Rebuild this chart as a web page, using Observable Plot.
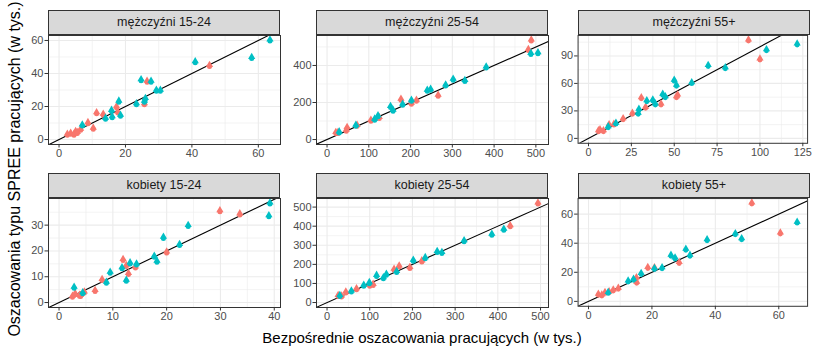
<!DOCTYPE html>
<html>
<head>
<meta charset="utf-8">
<script src="https://cdn.jsdelivr.net/npm/d3@7"></script>
<script src="https://cdn.jsdelivr.net/npm/@observablehq/plot@0.6"></script>
<style>
  html, body { margin: 0; padding: 0; background: white; }
  #chart { position: relative; width: 817px; height: 348px; font-family: "Liberation Sans", Arial, sans-serif; overflow: hidden; }
  .strip { position: absolute; box-sizing: border-box; border: 1px solid #333; background: #D9D9D9; color: #1A1A1A; font-size: 12.5px; text-align: center; line-height: 23px; height: 25px; }
  .plotwrap { position: absolute; }
  .title { position: absolute; font-size: 15px; color: #000; white-space: nowrap; }
</style>
</head>
<body>
<div id="chart"></div>
<script>
// ---- data ----
const facetTitles = ["mężczyźni 15-24", "mężczyźni 25-54", "mężczyźni 55+", "kobiety 15-24", "kobiety 25-54", "kobiety 55+"];
const xTitle = "Bezpośrednie oszacowania pracujących (w tys.)";
const yTitle = "Oszacowania typu SPREE pracujących (w tys.)";
const seriesColors = ["#F8766D", "#00BFC4"];

// [direct estimate, SPREE estimate]
const m1524Red = [[45.3,44.6],[26.5,35],[25.7,21.4],[17.3,19.6],[17.7,16.4],[11.3,16],[13.3,15],[8.7,10],[10.3,6.6],[6.5,6],[5,4.6],[3.5,3.6],[2.5,3],[4.5,3],[5.5,4]];
const m1524Teal = [[63.5,60],[58,49.4],[41,46.8],[24.7,36],[27.7,35],[29.3,29.6],[30.5,29.6],[26,24.6],[25.7,23],[23.3,21.4],[18,23],[18.5,14.4],[15.8,17.4],[16,13.6],[14,12.6],[7,8.6]];
const m2554Red = [[489,535],[482,484],[266,237],[214,210],[202,194],[177,215],[125,117],[105,102],[72,75],[48,63],[46,48],[26,36],[21,36]];
const m2554Teal = [[488,463],[505,466],[381,389],[330,317],[302,323],[284,292],[248,269],[240,264],[202,210],[181,188],[152,176],[158,156],[122,126],[114,108],[69,75],[29,39]];
const m55Red = [[93.3,107],[100,86.3],[52,46.8],[51.3,45],[42.3,37],[30.8,43.9],[33.3,33.5],[25.6,27],[20.2,20.9],[12,14.4],[14.8,15.1],[6.7,9],[5.8,7.9],[8.7,7.9]];
const m55Teal = [[121.7,102.5],[103.8,96.4],[79.8,76.6],[69.8,79],[60.2,60.4],[50,63],[51.3,57.5],[43.3,47.8],[44.8,45],[37.5,41.4],[34,40.6],[39,37],[29.4,31.3],[29,27],[16,16.2],[11.5,12.2]];
const k1524Red = [[29.9,35.4],[33.6,34.2],[20,19.4],[11.9,16.5],[12.5,14.2],[14.2,13.6],[12.9,11.1],[8,8.8],[6.7,4.5],[4.7,3.9],[3.8,2.7],[2.5,2.3],[4,2.6],[3,3.3]];
const k1524Teal = [[39.2,38.4],[39,33.5],[24,29.7],[19.4,25.1],[22.4,22.3],[17.7,17.8],[18.2,15.8],[13.2,15.2],[14.4,14.8],[11.7,13.3],[9.5,11.6],[12.5,8.5],[8.8,7.7],[2.8,5.8],[4.4,3.6]];
const k2554Red = [[494,519],[429,400],[222,216],[194,181],[169,189],[157,172],[108,93],[100,88],[69,70],[44,53],[26,35],[34,32]];
const k2554Teal = [[414,382],[386,356],[321,321],[269,260],[258,265],[230,233],[202,219],[163,160],[139,146],[116,140],[132,128],[99,102],[86,88],[57,58],[30,35]];
const k55Red = [[51.5,67.4],[60.5,46.7],[28.6,26.4],[18.7,23],[20.8,22.8],[15.1,15.9],[15.2,12.8],[9.4,8.7],[7.8,7.5],[5.2,5.9],[3.1,4.6],[4.2,4.1],[6.5,6.4]];
const k55Teal = [[65.8,54.2],[46.3,46.2],[48.3,42.8],[37.4,42.1],[30.7,35.5],[32,31.4],[26,31.4],[27.3,29.6],[23.2,22.8],[20.8,22.3],[16.6,18.9],[14.2,15],[12.5,13.7],[6.2,5.9]];

const xTicks = [[0,20,40,60],[0,100,200,300,400,500],[0,25,50,75,100,125],[0,10,20,30,40],[0,100,200,300,400,500],[0,20,40,60]];
const yTicks = [[0,20,40,60],[0,200,400],[0,30,60,90],[0,10,20,30],[0,100,200,300,400,500],[0,20,40,60]];

// ---- layout ----
const panelLefts = [48, 316, 578];
const panelTops = [35, 198];
const PW = 232, PH = 109, SH = 25;
const ML = 40, MR = 10, MT = 4, MB = 24;

const facets = [
  [m1524Red, m1524Teal], [m2554Red, m2554Teal], [m55Red, m55Teal],
  [k1524Red, k1524Teal], [k2554Red, k2554Teal], [k55Red, k55Teal]
];

function minorsOf(t, dom) {
  const out = [];
  const step = t[1] - t[0];
  const ext = [t[0] - step, ...t, t[t.length - 1] + step];
  for (let i = 0; i < ext.length - 1; i++) {
    const m = (ext[i] + ext[i + 1]) / 2;
    if (m > dom[0] && m < dom[1]) out.push(m);
  }
  return out;
}

const chart = document.getElementById("chart");

facets.forEach((series, i) => {
  const col = i % 3, row = Math.floor(i / 3);
  const L = panelLefts[col], T = panelTops[row];
  const all = series.flat();
  const xmax = d3.max(all, d => d[0]);
  const ymax = d3.max(all, d => d[1]);
  const xd = [-0.05 * xmax, 1.05 * xmax];
  const yd = [-0.05 * ymax, 1.05 * ymax];
  const lo = Math.min(xd[0], yd[0]), hi = Math.max(xd[1], yd[1]);

  const marks = [
    Plot.gridX(minorsOf(xTicks[i], xd), {stroke: "#EBEBEB", strokeOpacity: 1, strokeWidth: 0.6}),
    Plot.gridY(minorsOf(yTicks[i], yd), {stroke: "#EBEBEB", strokeOpacity: 1, strokeWidth: 0.6}),
    Plot.gridX(xTicks[i], {stroke: "#EBEBEB", strokeOpacity: 1, strokeWidth: 1.1}),
    Plot.gridY(yTicks[i], {stroke: "#EBEBEB", strokeOpacity: 1, strokeWidth: 1.1}),
    Plot.link([{a: lo, b: hi}], {x1: "a", y1: "a", x2: "b", y2: "b", stroke: "black", strokeWidth: 1.1, clip: true})
  ];
  series.forEach((pts, s) => {
    marks.push(Plot.dot(pts, {x: d => d[0], y: d => d[1], symbol: "circle", r: 2.5, dy: 0.6, fill: seriesColors[s], stroke: "none"}));
    marks.push(Plot.dot(pts, {x: d => d[0], y: d => d[1], symbol: "triangle", r: 2.7, dy: -1.0, fill: seriesColors[s], stroke: "none"}));
  });
  marks.push(Plot.frame({stroke: "#333", strokeWidth: 1}));
  marks.push(Plot.axisX(xTicks[i], {tickSize: 3.5, tickPadding: 1.5, label: null, stroke: "#333"}));
  marks.push(Plot.axisY(yTicks[i], {tickSize: 3.5, tickPadding: 1.5, label: null, stroke: "#333"}));

  const p = Plot.plot({
    width: PW + ML + MR, height: PH + MT + MB,
    marginLeft: ML, marginRight: MR, marginTop: MT, marginBottom: MB,
    x: {domain: xd}, y: {domain: yd},
    style: {background: "transparent", fontFamily: "'Liberation Sans', Arial, sans-serif", fontSize: "11px", color: "#4D4D4D", overflow: "visible"},
    marks
  });
  const wrap = document.createElement("div");
  wrap.className = "plotwrap";
  wrap.style.left = (L - ML) + "px";
  wrap.style.top = (T - MT) + "px";
  wrap.appendChild(p);
  chart.appendChild(wrap);

  const strip = document.createElement("div");
  strip.className = "strip";
  strip.style.left = L + "px";
  strip.style.top = (T - SH) + "px";
  strip.style.width = PW + "px";
  strip.textContent = facetTitles[i];
  chart.appendChild(strip);
});

const xt = document.createElement("div");
xt.className = "title";
xt.textContent = xTitle;
xt.style.left = "422px";
xt.style.top = "329px";
xt.style.transform = "translateX(-50%)";
chart.appendChild(xt);

const yt = document.createElement("div");
yt.className = "title";
yt.textContent = yTitle;
yt.style.fontSize = "16px";
yt.style.left = "15px";
yt.style.top = "169px";
yt.style.transform = "translate(-50%, -50%) rotate(-90deg)";
chart.appendChild(yt);
</script>
</body>
</html>
